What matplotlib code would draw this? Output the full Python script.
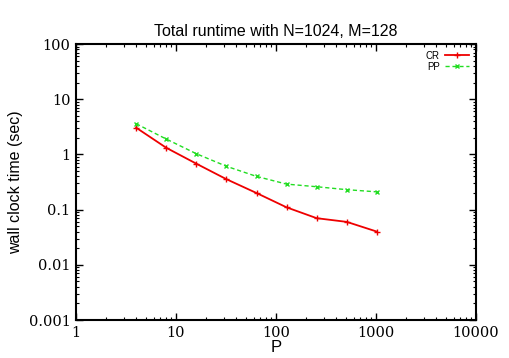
import matplotlib.pyplot as plt
from matplotlib.ticker import LogLocator, FixedLocator, NullFormatter

P = [4, 8, 16, 32, 64, 128, 256, 512, 1024]
cr_time = [3.05, 1.32, 0.68, 0.356, 0.20, 0.11, 0.07, 0.06, 0.04]
pp_time = [3.6, 1.9, 1.03, 0.61, 0.40, 0.29, 0.26, 0.23, 0.21]
xticks = [1, 10, 100, 1000, 10000]
xticklabels = ["1", "10", "100", "1000", "10000"]
yticks = [0.001, 0.01, 0.1, 1, 10, 100]
yticklabels = ["0.001", "0.01", "0.1", "1", "10", "100"]

fig = plt.figure(figsize=(5.1, 3.58), dpi=100)
ax = fig.add_axes([0.149, 0.106, 0.784, 0.771])

ax.plot(P, cr_time, color="#ee0000", lw=1.3, marker="+", ms=4.5, mew=1.0, label="CR")
ax.plot(P, pp_time, color="#22dd22", lw=1.0, ls=(0, (3, 2)), marker="x", ms=3.5, mew=1.0, label="PP")

ax.set_xscale("log")
ax.set_yscale("log")
ax.set_xlim(1, 10000)
ax.set_ylim(0.001, 100)

ax.xaxis.set_major_locator(FixedLocator(xticks))
ax.set_xticklabels(xticklabels)
ax.yaxis.set_major_locator(FixedLocator(yticks))
ax.set_yticklabels(yticklabels)
ax.xaxis.set_minor_locator(LogLocator(base=10, subs=range(2, 10)))
ax.yaxis.set_minor_locator(LogLocator(base=10, subs=range(2, 10)))
ax.xaxis.set_minor_formatter(NullFormatter())
ax.yaxis.set_minor_formatter(NullFormatter())

ax.tick_params(which="both", direction="in", top=True, right=True, color="black")
ax.tick_params(which="major", length=5, width=1.0, labelsize=10.5, pad=4)
ax.tick_params(which="minor", length=2.5, width=0.8)
for lab in ax.get_xticklabels() + ax.get_yticklabels():
    lab.set_fontfamily("DejaVu Serif")
for s in ax.spines.values():
    s.set_linewidth(1.5)

ax.set_title("Total runtime with N=1024, M=128", fontsize=11.5, family="Liberation Sans", pad=6)
ax.set_xlabel("P", fontsize=12, family="Liberation Sans", labelpad=0)
ax.set_ylabel("wall clock time (sec)", fontsize=11.5, family="Liberation Sans", labelpad=4)

ax.legend(loc="upper right", frameon=False, markerfirst=False,
          handlelength=2.5, handletextpad=0.5, labelspacing=0.1,
          borderaxespad=0.3, prop={"family": "Liberation Sans", "size": 7})

fig.savefig("out.png", dpi=100)
